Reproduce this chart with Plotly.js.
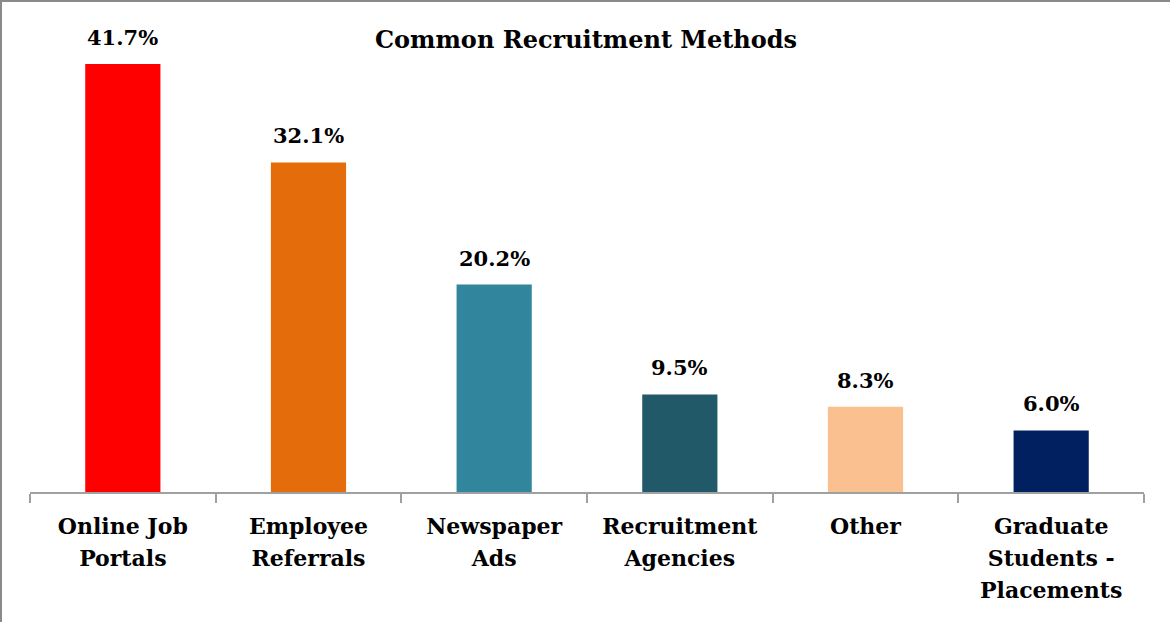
<!DOCTYPE html>
<html>
<head>
<meta charset="utf-8">
<script src="https://cdn.plot.ly/plotly-3.0.1.min.js"></script>
<style>
html,body{margin:0;padding:0;background:#fff;}
#chart{width:1170px;height:622px;box-sizing:border-box;border-top:2px solid #8a8a8a;border-left:2px solid #8a8a8a;}
</style>
</head>
<body>
<div id="chart"></div>
<script>
const categories = ["Online Job<br>Portals", "Employee<br>Referrals", "Newspaper<br>Ads", "Recruitment<br>Agencies", "Other", "Graduate<br>Students -<br>Placements"];
const values = [41.7, 32.1, 20.2, 9.5, 8.3, 6.0];
const labels = ["41.7%", "32.1%", "20.2%", "9.5%", "8.3%", "6.0%"];
const colors = ["#FF0000", "#E46C0A", "#31859C", "#215968", "#FAC090", "#002060"];

const fontFamily = "'DejaVu Serif',serif";

const trace = {
  type: "bar",
  x: categories,
  y: values,
  marker: {color: colors},
  width: 0.405,
  hoverinfo: "none"
};

const annotations = categories.map((c, i) => ({
  x: c, y: values[i], xref: "x", yref: "y",
  text: "<b>" + labels[i] + "</b>",
  showarrow: false, yanchor: "bottom", yshift: 12,
  font: {family: fontFamily, size: 21, color: "#000"}
}));

const layout = {
  width: 1168,
  height: 620,
  margin: {l: 28, r: 26, t: 28, b: 130},
  paper_bgcolor: "#fff",
  plot_bgcolor: "#fff",
  showlegend: false,
  annotations: annotations,
  title: {
    text: "<b>Common Recruitment Methods</b>",
    font: {family: fontFamily, size: 24, color: "#000"},
    x: 0.5, xanchor: "center",
    y: 0.94, yref: "container", yanchor: "middle"
  },
  xaxis: {
    type: "category",
    range: [-0.5, 5.5],
    showline: true,
    linecolor: "#a0a0a0",
    linewidth: 2,
    ticks: "outside",
    tickson: "boundaries",
    ticklen: 9,
    tickwidth: 2,
    tickcolor: "#a0a0a0",
    tickfont: {family: fontFamily, size: 22, color: "#000"},
    ticklabelstandoff: 14,
    tickangle: 0,
    showgrid: false,
    zeroline: false
  },
  yaxis: {
    range: [0, 45],
    visible: false,
    showgrid: false,
    zeroline: false
  },
  bargap: 0.595
};

Plotly.newPlot("chart", [trace], layout, {displayModeBar: false, staticPlot: true}).then(() => {
  document.querySelectorAll(".xtick text").forEach(t => {
    t.style.fontWeight = "bold";
    t.querySelectorAll("tspan.line").forEach((s, k) => {
      if (k > 0) s.setAttribute("dy", (k * 1.45) + "em");
    });
  });
});
</script>
</body>
</html>
